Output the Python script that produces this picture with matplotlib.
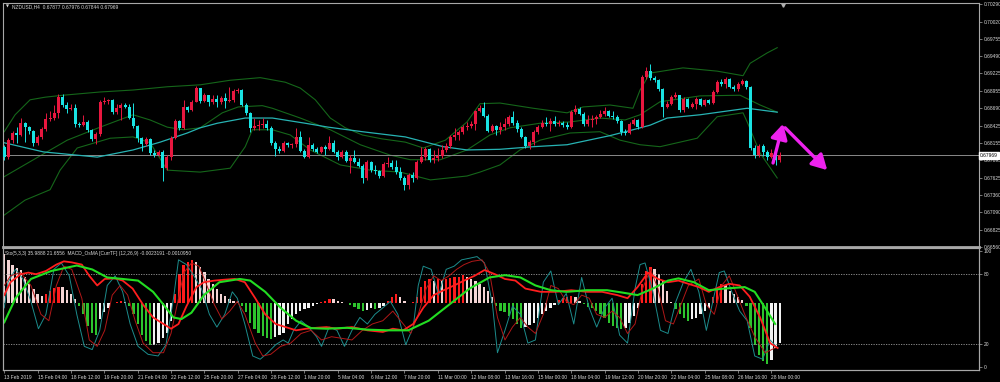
import numpy as np
import matplotlib
matplotlib.use("Agg")
import matplotlib.pyplot as plt

plt.rcParams["font.family"] = ["Liberation Sans", "DejaVu Sans"]

# ── NZDUSD H4 candles ─────────────────────────────────────────────────────────
OPEN0 = 0.6810
CLOSE = [
    0.6794, 0.6820, 0.6831, 0.6828, 0.6846, 0.6840, 0.6834, 0.6816, 0.6825, 0.6837,
    0.6853, 0.6854, 0.6862, 0.6886, 0.6874, 0.6868, 0.6869, 0.6845, 0.6843, 0.6848,
    0.6836, 0.6822, 0.6830, 0.6879, 0.6880, 0.6882, 0.6863, 0.6869, 0.6874, 0.6871,
    0.6854, 0.6842, 0.6823, 0.6814, 0.6822, 0.6800, 0.6797, 0.6802, 0.6777, 0.6794,
    0.6823, 0.6849, 0.6839, 0.6871, 0.6866, 0.6879, 0.6900, 0.6880, 0.6889, 0.6879,
    0.6883, 0.6879, 0.6885, 0.6880, 0.6882, 0.6895, 0.6897, 0.6874, 0.6862, 0.6839,
    0.6842, 0.6843, 0.6845, 0.6839, 0.6816, 0.6806, 0.6803, 0.6816, 0.6813, 0.6814,
    0.6825, 0.6803, 0.6794, 0.6813, 0.6806, 0.6802, 0.6810, 0.6806, 0.6816, 0.6802,
    0.6794, 0.6802, 0.6788, 0.6793, 0.6787, 0.6780, 0.6762, 0.6787, 0.6774, 0.6773,
    0.6765, 0.6784, 0.6785, 0.6779, 0.6771, 0.6762, 0.6751, 0.6767, 0.6762, 0.6787,
    0.6794, 0.6806, 0.6790, 0.6793, 0.6796, 0.6805, 0.6811, 0.6825, 0.6828, 0.6833,
    0.6840, 0.6842, 0.6845, 0.6865, 0.6869, 0.6857, 0.6834, 0.6842, 0.6836, 0.6840,
    0.6845, 0.6856, 0.6846, 0.6837, 0.6825, 0.6811, 0.6817, 0.6833, 0.6840, 0.6846,
    0.6845, 0.6849, 0.6845, 0.6846, 0.6843, 0.6840, 0.6863, 0.6868, 0.6860, 0.6845,
    0.6851, 0.6853, 0.6856, 0.6860, 0.6865, 0.6857, 0.6856, 0.6849, 0.6833, 0.6831,
    0.6845, 0.6851, 0.6840, 0.6917, 0.6926, 0.6916, 0.6912, 0.6899, 0.6871, 0.6876,
    0.6886, 0.6889, 0.6866, 0.6883, 0.6871, 0.6876, 0.6883, 0.6874, 0.6882, 0.6877,
    0.6894, 0.6909, 0.6906, 0.6914, 0.6902, 0.6899, 0.6906, 0.6911, 0.6902, 0.6808,
    0.6797, 0.6811, 0.6802, 0.6794, 0.6800, 0.6790, 0.6797,
]
HIGH = [
    0.6813, 0.6823, 0.6834, 0.6840, 0.6854, 0.6848, 0.6842, 0.6836, 0.6828, 0.6840,
    0.6862, 0.6865, 0.6874, 0.6891, 0.6891, 0.6879, 0.6876, 0.6876, 0.6848, 0.6859,
    0.6851, 0.6837, 0.6833, 0.6882, 0.6886, 0.6883, 0.6883, 0.6876, 0.6877, 0.6877,
    0.6876, 0.6877, 0.6843, 0.6825, 0.6825, 0.6823, 0.6805, 0.6805, 0.6805, 0.6797,
    0.6827, 0.6853, 0.6851, 0.6882, 0.6873, 0.6882, 0.6903, 0.6894, 0.6892, 0.6886,
    0.6889, 0.6889, 0.6888, 0.6892, 0.6902, 0.6899, 0.6900, 0.6899, 0.6877, 0.6863,
    0.6854, 0.6851, 0.6854, 0.6851, 0.6842, 0.6819, 0.6811, 0.6819, 0.6817, 0.6816,
    0.6839, 0.6834, 0.6806, 0.6825, 0.6816, 0.6810, 0.6811, 0.6813, 0.6827, 0.6820,
    0.6805, 0.6805, 0.6805, 0.6797, 0.6805, 0.6793, 0.6784, 0.6790, 0.6788, 0.6782,
    0.6774, 0.6787, 0.6794, 0.6790, 0.6790, 0.6779, 0.6765, 0.6770, 0.6771, 0.6790,
    0.6810, 0.6810, 0.6808, 0.6805, 0.6808, 0.6813, 0.6816, 0.6828, 0.6839, 0.6836,
    0.6843, 0.6848, 0.6849, 0.6866, 0.6874, 0.6879, 0.6860, 0.6845, 0.6843, 0.6848,
    0.6854, 0.6859, 0.6865, 0.6851, 0.6840, 0.6827, 0.6820, 0.6836, 0.6843, 0.6851,
    0.6856, 0.6854, 0.6857, 0.6851, 0.6849, 0.6848, 0.6866, 0.6874, 0.6871, 0.6863,
    0.6859, 0.6859, 0.6859, 0.6866, 0.6871, 0.6866, 0.6865, 0.6859, 0.6851, 0.6837,
    0.6848, 0.6854, 0.6853, 0.6920, 0.6932, 0.6937, 0.6919, 0.6914, 0.6900, 0.6880,
    0.6889, 0.6894, 0.6889, 0.6886, 0.6885, 0.6879, 0.6886, 0.6885, 0.6883, 0.6883,
    0.6897, 0.6912, 0.6914, 0.6917, 0.6916, 0.6905, 0.6909, 0.6914, 0.6912, 0.6903,
    0.6813, 0.6814, 0.6814, 0.6805, 0.6806, 0.6802, 0.6802,
]
LOW = [
    0.6790, 0.6791, 0.6816, 0.6816, 0.6827, 0.6817, 0.6830, 0.6811, 0.6813, 0.6822,
    0.6834, 0.6849, 0.6851, 0.6854, 0.6871, 0.6862, 0.6866, 0.6840, 0.6840, 0.6842,
    0.6833, 0.6819, 0.6814, 0.6827, 0.6876, 0.6876, 0.6860, 0.6860, 0.6851, 0.6869,
    0.6853, 0.6839, 0.6817, 0.6803, 0.6811, 0.6797, 0.6794, 0.6796, 0.6757, 0.6774,
    0.6790, 0.6822, 0.6836, 0.6837, 0.6863, 0.6865, 0.6879, 0.6877, 0.6879, 0.6873,
    0.6876, 0.6871, 0.6876, 0.6869, 0.6879, 0.6879, 0.6892, 0.6873, 0.6859, 0.6833,
    0.6836, 0.6836, 0.6839, 0.6836, 0.6813, 0.6796, 0.6800, 0.6802, 0.6810, 0.6808,
    0.6810, 0.6802, 0.6793, 0.6793, 0.6803, 0.6800, 0.6800, 0.6797, 0.6805, 0.6800,
    0.6790, 0.6793, 0.6787, 0.6770, 0.6785, 0.6779, 0.6754, 0.6759, 0.6771, 0.6768,
    0.6762, 0.6764, 0.6779, 0.6776, 0.6768, 0.6759, 0.6744, 0.6745, 0.6756, 0.6760,
    0.6785, 0.6790, 0.6787, 0.6785, 0.6788, 0.6793, 0.6802, 0.6808, 0.6820, 0.6820,
    0.6830, 0.6836, 0.6839, 0.6836, 0.6863, 0.6856, 0.6833, 0.6833, 0.6828, 0.6830,
    0.6836, 0.6842, 0.6843, 0.6833, 0.6823, 0.6808, 0.6806, 0.6813, 0.6830, 0.6839,
    0.6842, 0.6834, 0.6842, 0.6842, 0.6840, 0.6837, 0.6839, 0.6860, 0.6859, 0.6842,
    0.6842, 0.6840, 0.6845, 0.6854, 0.6857, 0.6856, 0.6853, 0.6846, 0.6828, 0.6828,
    0.6830, 0.6843, 0.6837, 0.6839, 0.6914, 0.6912, 0.6909, 0.6895, 0.6856, 0.6869,
    0.6874, 0.6885, 0.6863, 0.6863, 0.6869, 0.6869, 0.6868, 0.6873, 0.6873, 0.6876,
    0.6876, 0.6892, 0.6903, 0.6900, 0.6900, 0.6895, 0.6895, 0.6905, 0.6899, 0.6805,
    0.6793, 0.6794, 0.6796, 0.6790, 0.6793, 0.6782, 0.6787,
]
LAST_PRICE = 0.67969

# ── overlays on the price chart (bar index, price) ───────────────────────────
MA_X = [0, 9.4, 22.3, 30.9, 37.4, 43.9, 47, 51.1, 57.8, 64.3, 72.2, 77.7, 85.9, 96.2,
        105.3, 111, 118.9, 126.9, 135, 145.3, 150.8, 154.9, 159, 166.9, 174.8, 178.2, 185.4]
MA_Y = [0.6816, 0.6802, 0.6794, 0.6805, 0.6817, 0.6831, 0.6839, 0.6846, 0.6854, 0.6854,
        0.6846, 0.6840, 0.6833, 0.6825, 0.6810, 0.6805, 0.6806, 0.6810, 0.6813, 0.6827,
        0.6836, 0.6843, 0.6854, 0.6859, 0.6866, 0.6869, 0.6863]

UP_X = [0, 2.6, 6.2, 9.8, 14.1, 23, 30.9, 39.1, 47, 54.2, 61.4, 67.4, 71, 74.6, 78.2,
        81.8, 85.9, 90.6, 96.2, 100.5, 105.8, 111, 114.1, 118.9, 126.9, 135, 138.8,
        145.3, 150.8, 152.5, 154.9, 162.8, 171, 177.2, 178.9, 183, 185.4]
UP_Y = [0.6833, 0.6859, 0.6882, 0.6886, 0.6889, 0.6894, 0.6897, 0.6902, 0.6905, 0.6912,
        0.6916, 0.6909, 0.6900, 0.6882, 0.6854, 0.6839, 0.6828, 0.6822, 0.6817, 0.6808,
        0.6820, 0.6848, 0.6876, 0.6877, 0.6869, 0.6862, 0.6871, 0.6874, 0.6869, 0.6897,
        0.6923, 0.6931, 0.6926, 0.6919, 0.6938, 0.6954, 0.6962]

MID_X = [0, 7, 15.1, 23, 30.9, 35, 39.1, 42.9, 47, 52.3, 56.1, 61.9, 64.3, 71, 78.2,
         85.4, 92.6, 97.4, 104.6, 111, 116.5, 121.3, 128.5, 135.7, 142.9, 148.9, 152.5,
         157.3, 166.9, 176.5, 181.3, 185.4]
MID_Y = [0.6764, 0.6790, 0.6820, 0.6840, 0.6859, 0.6851, 0.6840, 0.6836, 0.6839, 0.6862,
         0.6871, 0.6873, 0.6869, 0.6854, 0.6836, 0.6813, 0.6797, 0.6790, 0.6790, 0.6805,
         0.6828, 0.6839, 0.6846, 0.6848, 0.6854, 0.6851, 0.6859, 0.6879, 0.6888, 0.6889,
         0.6874, 0.6863]

LO_X = [0, 5, 11, 13.4, 17.5, 25.4, 30.9, 35, 39.1, 47, 54.2, 57.8, 59.5, 64.3, 68.6,
        73.4, 80.6, 87.8, 95, 102.2, 111, 114.1, 118.9, 123.7, 128.5, 135.7, 142.9,
        147.7, 152.5, 157.3, 166.2, 171, 177.2, 178.2, 181.3, 185.4]
LO_Y = [0.6705, 0.6728, 0.6744, 0.6774, 0.6808, 0.6823, 0.6825, 0.6816, 0.6774, 0.6771,
        0.6777, 0.6810, 0.6836, 0.6836, 0.6828, 0.6805, 0.6782, 0.6774, 0.6771, 0.6759,
        0.6765, 0.6771, 0.6782, 0.6805, 0.6820, 0.6831, 0.6833, 0.6820, 0.6813, 0.6810,
        0.6823, 0.6856, 0.6862, 0.6848, 0.6800, 0.6762]

ARROW_UP = [(184.4, 0.6785), (186.8, 0.6845)]
ARROW_DOWN = [(187.3, 0.6839), (197.4, 0.6774)]

PRICE_TICKS = [0.70290, 0.70020, 0.69755, 0.69490, 0.69225, 0.68955, 0.68690, 0.68425,
               0.68155, 0.67895, 0.67625, 0.67360, 0.67090, 0.66825, 0.66560]

# ── lower panel: MACD OsMA histogram (1e-5) + stochastic lines ────────────────
OSMA = [
    194, 168, 148, 139, 131, 102, 76, 56, 37, 30,
    37, 50, 60, 66, 63, 52, 37, 17, -9, -42,
    -88, -114, -121, -62, -35, -16, 3, 7, 8, 4,
    -9, -42, -81, -121, -147, -160, -160, -153, -134, -114,
    -68, 37, 115, 148, 161, 168, 161, 141, 122, 96,
    76, 56, 37, 30, 17, 10, 10, -9, -35, -75,
    -101, -114, -127, -134, -140, -131, -123, -114, -81, -62,
    -42, -29, -22, -16, -9, -3, 4, 10, 17, 17,
    10, 4, 0, -5, -13, -22, -31, -26, -18, -22,
    -16, -9, 8, 24, 37, 24, 10, 3, 4, 24,
    63, 89, 96, 89, 96, 92, 96, 100, 102, 105,
    109, 105, 96, 89, 76, 63, 50, 24, -9, -29,
    -35, -48, -62, -81, -94, -92, -84, -75, -55, -42,
    -29, -18, -5, 13, 21, 26, 30, 24, 10, -3,
    -13, -18, -29, -42, -58, -75, -88, -97, -101, -94,
    -75, -48, -16, 76, 126, 141, 135, 115, 89, 50,
    4, -22, -42, -58, -68, -62, -55, -42, -31, -18,
    24, 56, 76, 73, 50, 37, 26, 13, -9, -94,
    -160, -199, -225, -236, -219, -173, -153,
]

SLOW_X = [0, 2.7, 6.4, 11.3, 17.4, 21.1, 24.7, 28.4, 32.1, 35.7, 38.2, 40.6, 42.5, 44.9,
          47.9, 51.6, 56.5, 59, 62.6, 66.3, 70, 73.6, 77.3, 82.2, 87.1, 92, 96.9, 101.8,
          106.7, 111.6, 116.4, 120.1, 123.8, 127.4, 131.1, 134.8, 139.7, 144.6, 148.2,
          151.9, 155.6, 159.2, 161.7, 165.4, 169, 172.7, 177.6, 180, 182.5, 184.9]
SLOW_Y = [38.5, 59.3, 75.9, 82.8, 87.5, 84.1, 77.2, 75.9, 74.5, 64.8, 53.7, 42.7, 41.3,
          46.8, 62.0, 73.1, 75.9, 74.5, 64.8, 51.0, 39.9, 33.5, 33.0, 33.8, 32.2, 31.6,
          31.6, 39.9, 53.7, 67.6, 77.2, 79.2, 77.2, 70.3, 66.2, 64.8, 66.2, 66.2, 64.2,
          62.0, 67.6, 74.5, 76.4, 73.1, 66.2, 67.6, 68.9, 64.8, 51.0, 37.1]

MED_X = [0, 1.5, 3.9, 5.8, 7.6, 10, 12.5, 14.3, 16.2, 18.6, 20.4, 22.3, 24.1, 26.6, 28.4,
         30.8, 33.3, 35.7, 38.2, 40, 41.8, 43.7, 46.1, 47.9, 50.4, 52.9, 55.3, 57.7, 60.2,
         62.6, 65.1, 67.5, 70, 72.4, 74.9, 77.3, 79.8, 83.4, 87.1, 90.8, 93.2, 95.7, 98.1,
         100.5, 103, 105.4, 107.9, 110.3, 112.8, 115.2, 117.7, 120.1, 122.6, 125, 128.7,
         132.3, 136, 139.7, 143.4, 147, 149.5, 151.9, 154.4, 156.8, 159.2, 161.7, 164.1,
         166.6, 169, 171.5, 173.9, 176.4, 178.8, 181.3, 183.7, 185.5]
MED_Y = [62.0, 73.1, 80.0, 81.4, 80.0, 82.8, 88.3, 91.1, 90.2, 88.3, 78.6, 70.3, 75.9,
         76.4, 74.5, 67.6, 53.7, 42.7, 37.1, 33.0, 37.1, 52.4, 68.9, 73.1, 74.5, 75.3,
         75.9, 73.1, 59.3, 45.4, 37.1, 34.4, 31.6, 33.0, 33.8, 34.4, 33.0, 34.4, 31.6,
         30.2, 33.0, 31.6, 37.1, 51.0, 62.0, 66.2, 70.3, 74.5, 78.6, 83.6, 80.0, 75.9,
         74.5, 67.6, 64.8, 64.8, 66.2, 64.8, 64.8, 62.0, 59.3, 68.9, 81.4, 75.9, 73.1,
         74.5, 71.7, 68.9, 64.8, 68.9, 71.7, 70.3, 60.6, 42.7, 20.6, 16.4]

K_X = [0, 0.9, 2.7, 4.5, 6.4, 8.2, 10, 11.9, 13.7, 15.6, 17.4, 19.2, 21.1, 22.9, 24.7,
       26.6, 28.4, 30.2, 32.1, 34.5, 36.9, 38.8, 40.6, 41.8, 43.7, 45.5, 47.3, 49.2, 51,
       52.9, 54.7, 55.9, 57.7, 59.6, 61.4, 63.2, 65.1, 66.9, 68.1, 69.4, 71.2, 73, 74.9,
       76.1, 77.9, 79.8, 81.6, 83.4, 85.3, 87.1, 88.9, 90.8, 92.6, 94.4, 96.3, 98.1, 99.3,
       100.5, 102.4, 104.2, 106, 107.9, 109.7, 111.6, 113.4, 115.2, 117.1, 118.3, 120.1,
       121.9, 123.8, 125.6, 127.4, 129.3, 131.1, 132.9, 134.8, 136.6, 138.5, 140.3, 142.1,
       144, 145.8, 147.6, 149.5, 151.3, 152.5, 153.7, 155.6, 157.4, 159.2, 161.1, 162.9,
       164.7, 166.6, 168.4, 170.3, 171.5, 172.7, 174.5, 176.4, 178.2, 180, 181.9, 183.7,
       185.5]
K_Y = [51.0, 73.1, 84.2, 75.9, 56.5, 33.0, 45.4, 84.2, 89.7, 78.6, 45.4, 17.8, 15.0,
       31.6, 70.3, 78.6, 64.8, 37.1, 17.8, 10.9, 9.5, 19.2, 59.3, 92.4, 88.3, 78.6, 67.6,
       45.4, 34.4, 45.4, 64.8, 59.3, 37.1, 9.5, 6.7, 12.3, 19.2, 23.3, 20.6, 31.6, 39.9,
       34.4, 26.1, 17.8, 34.4, 31.6, 17.8, 31.6, 42.7, 37.1, 45.4, 51.0, 56.5, 45.4, 19.2,
       34.4, 70.3, 86.9, 84.2, 62.0, 84.2, 86.9, 92.4, 93.8, 95.2, 89.7, 53.7, 12.3, 31.6,
       52.4, 45.4, 20.6, 23.3, 73.1, 82.8, 53.7, 63.4, 37.1, 77.2, 51.0, 34.4, 51.0, 59.3,
       27.5, 20.6, 67.6, 88.3, 89.7, 64.8, 31.6, 28.9, 56.5, 73.1, 84.2, 64.8, 31.6, 62.0,
       81.4, 82.8, 64.8, 48.2, 39.9, 9.5, 6.7, 23.3, 16.4]

D_X = [0, 1.5, 3.9, 6.4, 8.8, 10.7, 12.5, 14.3, 16.2, 18.6, 20.4, 22.3, 24.1, 25.9, 27.8,
       29.6, 31.4, 33.3, 35.7, 38.2, 40, 41.8, 43.1, 44.9, 46.7, 48.6, 50.4, 52.2, 54.1,
       55.9, 57.7, 60.2, 62, 63.9, 66.3, 68.7, 71.2, 73.6, 76.1, 78.5, 81, 83.4, 85.9,
       88.3, 90.8, 93.2, 95.7, 97.5, 99.3, 101.2, 103, 104.8, 106.7, 108.5, 110.3, 112.2,
       114.6, 116.4, 118.3, 120.1, 121.9, 123.8, 125.6, 127.4, 129.3, 131.1, 132.9, 134.8,
       136.6, 138.5, 140.3, 142.1, 144, 145.8, 147.6, 149.5, 151.3, 153.1, 155, 156.8,
       158.6, 160.5, 162.3, 164.1, 166.6, 168.4, 170.3, 172.1, 173.9, 175.8, 177.6, 180,
       182.5, 184.9]
D_Y = [70.3, 78.6, 81.4, 70.3, 45.4, 39.9, 70.3, 86.9, 84.2, 59.3, 23.3, 17.8, 31.6,
       62.0, 70.3, 62.0, 39.9, 20.6, 12.3, 12.3, 28.9, 59.3, 81.4, 89.7, 86.9, 70.3, 53.7,
       41.3, 48.2, 56.5, 45.4, 20.6, 9.5, 10.9, 17.8, 20.6, 28.9, 31.6, 23.3, 26.1, 24.7,
       23.3, 31.6, 37.1, 39.9, 48.2, 37.1, 28.9, 45.4, 67.6, 78.6, 74.5, 78.6, 84.2, 88.3,
       91.1, 92.4, 81.4, 42.7, 23.3, 34.4, 42.7, 34.4, 28.9, 45.4, 70.3, 67.6, 56.5, 53.7,
       62.0, 59.3, 45.4, 42.7, 48.2, 42.7, 28.9, 37.1, 67.6, 84.2, 67.6, 39.9, 37.1, 53.7,
       70.3, 75.9, 53.7, 45.4, 70.3, 78.6, 62.0, 45.4, 26.1, 12.3, 16.4]

TICK_BARS = list(range(0, 185, 8))
TICK_LABELS = ["13 Feb 2019", "15 Feb 04:00", "18 Feb 12:00", "19 Feb 20:00",
               "21 Feb 04:00", "22 Feb 12:00", "25 Feb 20:00", "27 Feb 04:00",
               "28 Feb 12:00", "1 Mar 20:00", "5 Mar 04:00", "6 Mar 12:00",
               "7 Mar 20:00", "11 Mar 00:00", "12 Mar 08:00", "13 Mar 16:00",
               "15 Mar 00:00", "18 Mar 04:00", "19 Mar 12:00", "20 Mar 20:00",
               "22 Mar 04:00", "25 Mar 08:00", "26 Mar 16:00", "28 Mar 00:00"]

# ── styling ──────────────────────────────────────────────────────────────────
BG = "black"
FRAME = "#A8A8A8"
TXT = "#D8D8D8"
BULL = "#E8173F"
BEAR = "#19E3E3"
BAND = "#15661A"
MA_C = "#27B3B3"
FS = 3.5

W, H = 1000, 382
fig = plt.figure(figsize=(10, 3.82), dpi=100, facecolor=BG)


def box(x0, y0, x1, y1):
    return [x0 / W, 1 - y1 / H, (x1 - x0) / W, (y1 - y0) / H]


ax = fig.add_axes(box(3, 3, 979, 247))
ax2 = fig.add_axes(box(3, 248, 979, 370))
ax_st = ax2.twinx()

XLIM = (-0.3, 233.8)

# ── price panel ──────────────────────────────────────────────────────────────
ax.set_facecolor(BG)
n = len(CLOSE)
x = np.arange(n)
close = np.array(CLOSE)
opn = np.concatenate([[OPEN0], close[:-1]])
high = np.maximum(np.array(HIGH), np.maximum(opn, close))
low = np.minimum(np.array(LOW), np.minimum(opn, close))
cols = np.where(close >= opn, BULL, BEAR)

ax.plot(LO_X, LO_Y, color=BAND, lw=0.8, zorder=1)
ax.plot(MID_X, MID_Y, color=BAND, lw=0.8, zorder=1)
ax.plot(UP_X, UP_Y, color=BAND, lw=0.8, zorder=1)
ax.plot(MA_X, MA_Y, color=MA_C, lw=0.9, zorder=2)
ax.axhline(LAST_PRICE, color="#8A8A8A", lw=0.7, zorder=1)

ax.vlines(x, low, high, colors=cols, lw=0.7, zorder=3)
body_lo = np.minimum(opn, close)
body_h = np.maximum(np.abs(close - opn), 0.00006)
ax.bar(x, body_h, bottom=body_lo, width=0.72, color=cols, linewidth=0, zorder=4)

for tail, tip in (ARROW_UP, ARROW_DOWN):
    ax.annotate("", xy=tip, xytext=tail, zorder=6,
                arrowprops=dict(arrowstyle="-|>,head_length=0.9,head_width=0.5",
                                color="#EE22EE", lw=2.4, shrinkA=0, shrinkB=0,
                                mutation_scale=10))

ax.set_xlim(*XLIM)
ax.set_ylim(0.66560, 0.70306)
ax.set_xticks([])
ax.yaxis.tick_right()
ax.set_yticks(PRICE_TICKS)
ax.set_yticklabels([f"{p:.5f}" for p in PRICE_TICKS])
ax.tick_params(axis="y", colors=FRAME, labelcolor=TXT, labelsize=FS, length=2,
               width=0.5, pad=1.2)
for s in ax.spines.values():
    s.set_color(FRAME)
    s.set_linewidth(0.8)
ax.spines["bottom"].set_linewidth(2.0)

ax.text(1.001, LAST_PRICE, f"{LAST_PRICE:.5f}", transform=ax.get_yaxis_transform(),
        fontsize=FS, color="black", va="center", ha="left",
        bbox=dict(facecolor="white", edgecolor="white", pad=0.6))
ax.plot([186.8], [0.7028], marker="v", ms=2.5, color="#B0B0B0", clip_on=False)

fig.text(6 / W, 1 - 7 / H, "\u25bc", fontsize=2.8, color=TXT, va="center",
         family="DejaVu Sans")
fig.text(12 / W, 1 - 7 / H, "NZDUSD,H4  0.67877 0.67976 0.67844 0.67969",
         fontsize=FS, color=TXT, va="center")

# ── indicator panel ──────────────────────────────────────────────────────────
ax2.set_facecolor(BG)
osma = np.array(OSMA, dtype=float)
prev = np.concatenate([[osma[0]], osma[:-1]])
hcols = np.where(osma >= 0,
                 np.where(osma > prev, "#FF1C1C", "#F4D4D4"),
                 np.where(osma < prev, "#2DC42D", "#F2F2F2"))
ax2.bar(np.arange(len(osma)), osma, width=0.55, color=hcols, linewidth=0)
ax2.set_ylim(-259, 216)
ax2.set_xlim(*XLIM)
ax2.set_yticks([])
ax2.set_xticks(TICK_BARS)
ax2.set_xticklabels(TICK_LABELS, ha="left")
ax2.tick_params(axis="x", colors=FRAME, labelcolor=TXT, labelsize=FS, length=2.5,
                width=0.5, pad=1.2)

ax_st.set_ylim(-2.6, 102.6)
ax_st.set_xlim(*XLIM)
ax_st.axhline(80, color="#9A9A9A", lw=0.6, ls=(0, (1.5, 1.5)))
ax_st.axhline(20, color="#9A9A9A", lw=0.6, ls=(0, (1.5, 1.5)))
ax_st.plot(K_X, K_Y, color="#1C8C8C", lw=0.7)
ax_st.plot(D_X, D_Y, color="#B01818", lw=0.7)
ax_st.plot(MED_X, MED_Y, color="#FF1E1E", lw=1.3)
ax_st.plot(SLOW_X, SLOW_Y, color="#22DD22", lw=1.5)
ax_st.set_yticks([0, 20, 80, 100])
ax_st.tick_params(axis="y", colors=FRAME, labelcolor=TXT, labelsize=FS, length=2,
                  width=0.5, pad=1.2)

for a in (ax2, ax_st):
    for s in a.spines.values():
        s.set_color(FRAME)
        s.set_linewidth(0.8)

fig.text(5 / W, 1 - 254 / H,
         "Sto(5,3,3) 35.9888 21.6556  MACD_OsMA [CurrTF] (12,26,9) -0.0023191 -0.0010950",
         fontsize=FS, color=TXT, va="center")

fig.savefig("out.png", dpi=100, facecolor=BG)
